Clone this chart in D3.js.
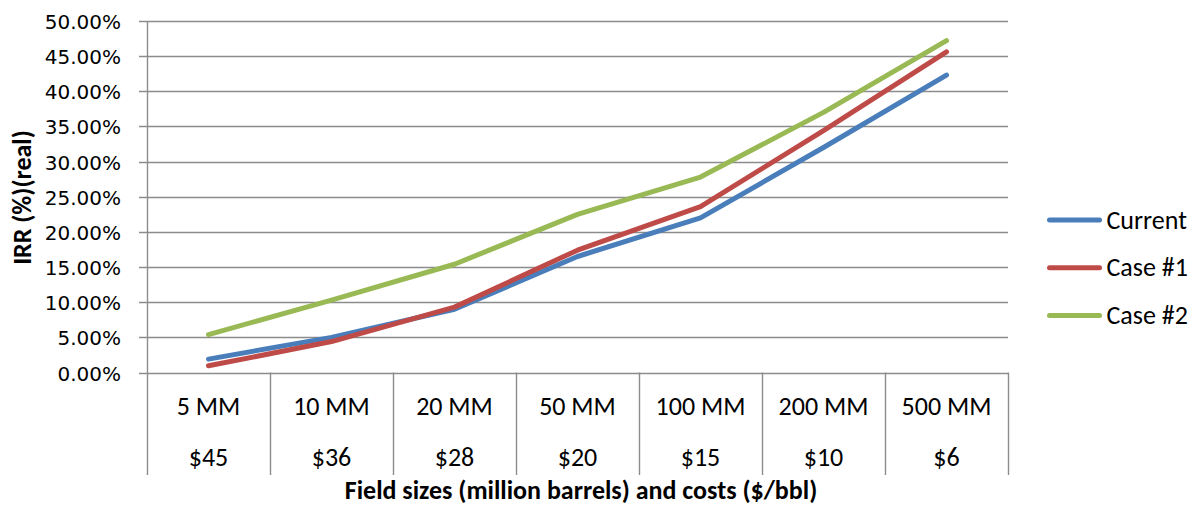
<!DOCTYPE html>
<html>
<head>
<meta charset="utf-8">
<script src="https://cdn.jsdelivr.net/npm/d3@7"></script>
<style>
  body { margin: 0; background: #fff; }
  svg { display: block; }
</style>
</head>
<body>
<svg id="chart" width="1192" height="506"></svg>
<script>
// Field sizes and unit costs shown on the two-row category axis
const fieldSizes = ["5 MM", "10 MM", "20 MM", "50 MM", "100 MM", "200 MM", "500 MM"];
const costs = ["$45", "$36", "$28", "$20", "$15", "$10", "$6"];

// IRR (real), percent
const current = [1.9, 5.0, 9.0, 16.5, 22.0, 32.0, 42.3];
const case1   = [0.95, 4.4, 9.3, 17.4, 23.6, 34.4, 45.6];
const case2   = [5.4, 10.3, 15.4, 22.5, 27.8, 37.0, 47.2];

const seriesNames = ["Current", "Case #1", "Case #2"];
const seriesColors = ["#4A7EBB", "#BE4B48", "#98B954"];
const yTicks = [0, 5, 10, 15, 20, 25, 30, 35, 40, 45, 50];

const series = [current, case1, case2].map((values, i) => ({
  name: seriesNames[i], color: seriesColors[i], values
}));

const svg = d3.select("#chart");
const catFont = "Carlito, Calibri, Lato, 'Open Sans', sans-serif";

const plotLeft = 147, plotRight = 1008, plotTop = 21, plotBottom = 372.5;
const axisBottom = 475;

const x = d3.scaleBand().domain(fieldSizes).range([plotLeft, plotRight]).padding(0);
const y = d3.scaleLinear().domain([0, 50]).range([plotBottom, plotTop]);

const gridColor = "#8c8c8c";

// horizontal gridlines with small outer ticks
svg.append("g").selectAll("line").data(yTicks).join("line")
  .attr("x1", plotLeft - 8).attr("x2", plotRight)
  .attr("y1", d => Math.round(y(d)) + 0.5).attr("y2", d => Math.round(y(d)) + 0.5)
  .attr("stroke", gridColor).attr("stroke-width", 1.4);

// y tick labels
svg.append("g").selectAll("text").data(yTicks).join("text")
  .attr("x", 121).attr("y", d => y(d) + 8)
  .attr("text-anchor", "end")
  .attr("font-family", "'DejaVu Sans', sans-serif")
  .attr("font-size", 20)
  .attr("fill", "#000")
  .text(d => d3.format(".2f")(d) + "%");

// vertical axis line and category separators reaching down through both label rows
const seps = [plotLeft].concat(fieldSizes.map(d => x(d) + x.bandwidth()));
svg.append("g").selectAll("line").data(seps).join("line")
  .attr("x1", d => Math.round(d) + 0.5).attr("x2", d => Math.round(d) + 0.5)
  .attr("y1", (d, i) => i === 0 ? plotTop : plotBottom)
  .attr("y2", axisBottom)
  .attr("stroke", gridColor).attr("stroke-width", 1.4);

// category labels: field size row and cost row
const cats = svg.append("g").attr("font-family", catFont).attr("font-size", 26).attr("fill", "#000");
cats.selectAll("text.size").data(fieldSizes).join("text")
  .attr("class", "size")
  .attr("x", d => x(d) + x.bandwidth() / 2).attr("y", 415)
  .attr("text-anchor", "middle")
  .text(d => d);
cats.selectAll("text.cost").data(costs).join("text")
  .attr("class", "cost")
  .attr("x", (d, i) => x(fieldSizes[i]) + x.bandwidth() / 2).attr("y", 466)
  .attr("text-anchor", "middle")
  .text(d => d);

// series lines
const line = d3.line()
  .x((d, i) => x(fieldSizes[i]) + x.bandwidth() / 2)
  .y(d => y(d));

svg.append("g").selectAll("path").data(series).join("path")
  .attr("d", s => line(s.values))
  .attr("fill", "none")
  .attr("stroke", s => s.color)
  .attr("stroke-width", 5)
  .attr("stroke-linecap", "round")
  .attr("stroke-linejoin", "round");

// legend
const lg = svg.append("g").selectAll("g").data(series).join("g")
  .attr("transform", (d, i) => `translate(1049.5, ${220 + i * 47.8})`);
lg.append("line")
  .attr("x1", 0).attr("x2", 50).attr("y1", 0).attr("y2", 0)
  .attr("stroke", d => d.color).attr("stroke-width", 5).attr("stroke-linecap", "round");
lg.append("text")
  .attr("x", 57).attr("y", 8.5)
  .attr("font-family", catFont).attr("font-size", 26)
  .text(d => d.name);

// axis titles
svg.append("text")
  .attr("transform", "translate(31,197.5) rotate(-90)")
  .attr("text-anchor", "middle")
  .attr("font-family", catFont).attr("font-size", 26).attr("font-weight", "bold")
  .text("IRR (%)(real)");

svg.append("text")
  .attr("x", 581).attr("y", 499)
  .attr("text-anchor", "middle")
  .attr("font-family", catFont).attr("font-size", 26).attr("font-weight", "bold")
  .text("Field sizes (million barrels) and costs ($/bbl)");
</script>
</body>
</html>
